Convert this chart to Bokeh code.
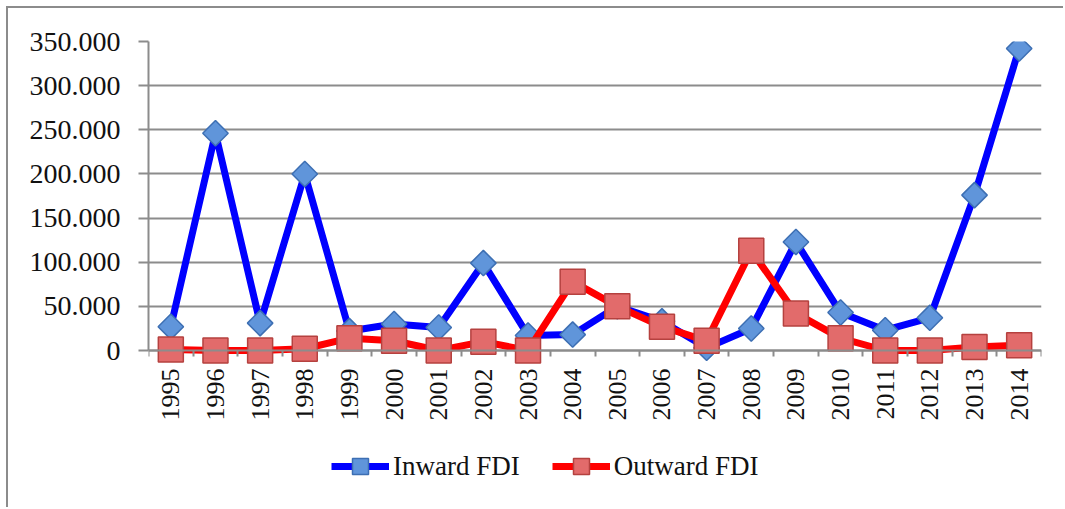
import math
from bokeh.plotting import figure
from bokeh.models import FixedTicker, Legend, LegendItem, ColumnDataSource
from bokeh.embed import file_html
from bokeh.resources import INLINE

years = ["1995", "1996", "1997", "1998", "1999", "2000", "2001", "2002", "2003", "2004",
         "2005", "2006", "2007", "2008", "2009", "2010", "2011", "2012", "2013", "2014"]
inward = [27, 246, 31, 200, 22, 30, 26, 99, 17, 18,
          50, 33, 3, 25, 123, 43, 23, 37, 176, 342]
outward = [1, 0, 0, 2, 14, 11, 0, 10, 0, 78,
           50, 27, 11, 113, 42, 14, 0, 0, 4, 6]
y_ticks = [0, 50, 100, 150, 200, 250, 300, 350]
y_tick_labels = ["0", "50.000", "100.000", "150.000", "200.000", "250.000", "300.000", "350.000"]

xs = [i + 0.5 for i in range(len(years))]
src_in = ColumnDataSource(dict(x=xs, y=[v * 1000 for v in inward]))
src_out = ColumnDataSource(dict(x=xs, y=[v * 1000 for v in outward]))
src_lab = ColumnDataSource(dict(x=xs, y=[0] * len(years), text=years))

W, H = 1057, 501
TOP, BOTTOM = 33, 10
DATA_PX = 309  # pixels from 0 to 350.000
ymax = 350000
frame_h = H - TOP - BOTTOM
ymin = -ymax * (frame_h - DATA_PX) / DATA_PX

p = figure(width=W, height=H, output_backend="svg", toolbar_location=None,
           x_range=(0, len(years)), y_range=(ymin, ymax),
           min_border_left=140, min_border_right=24, min_border_top=TOP, min_border_bottom=BOTTOM)
p.styles = {"margin-left": "6px", "margin-top": "6px",
            "border-left": "2px solid #8c8c8c", "border-top": "2px solid #8c8c8c"}
p.outline_line_color = None
p.background_fill_color = "white"
p.border_fill_color = "white"

# x axis at y = 0 inside the frame, boundary ticks only
p.xaxis.fixed_location = 0
p.xaxis.ticker = FixedTicker(ticks=[], minor_ticks=list(range(len(years) + 1)))
p.xaxis.major_tick_out = 0
p.xaxis.major_tick_in = 0
p.xaxis.minor_tick_out = 6
p.xaxis.minor_tick_in = 0
p.xaxis.minor_tick_line_color = "#8c8c8c"
p.xaxis.minor_tick_line_width = 2

p.yaxis.ticker = FixedTicker(ticks=[v * 1000 for v in y_ticks])
p.yaxis.bounds = (0, ymax)
p.yaxis.major_label_overrides = {v * 1000: lab for v, lab in zip(y_ticks, y_tick_labels)}
p.yaxis.major_tick_out = 10
p.yaxis.major_tick_in = 0
p.yaxis.minor_tick_out = 0
p.yaxis.minor_tick_in = 0
p.yaxis.major_tick_line_color = "#8c8c8c"
p.yaxis.major_tick_line_width = 2
p.yaxis.major_label_standoff = 18
p.yaxis.major_label_text_font = "Liberation Serif"
p.yaxis.major_label_text_font_size = "28px"
p.yaxis.major_label_text_color = "#111111"

for ax in (p.xaxis, p.yaxis):
    ax.axis_line_color = "#8c8c8c"
    ax.axis_line_width = 2

p.xgrid.grid_line_color = None
p.ygrid.ticker = FixedTicker(ticks=[v * 1000 for v in y_ticks])
p.ygrid.grid_line_color = "#8c8c8c"
p.ygrid.grid_line_width = 2

# year labels, rotated, below the axis
p.text("x", "y", text="text", source=src_lab, angle=math.pi / 2, y_offset=18,
       text_align="right", text_baseline="middle",
       text_font="Liberation Serif", text_font_size="26px", text_color="#111111")

# series
l_in = p.line("x", "y", source=src_in, line_color="#0000ff", line_width=7, line_join="round")
m_in = p.scatter("x", "y", source=src_in, marker="square", angle=math.pi / 4, size=18,
                 fill_color="#6095da", line_color="#3d6fb3", line_width=1.5)
l_out = p.line("x", "y", source=src_out, line_color="#ff0000", line_width=7, line_join="round")
m_out = p.scatter("x", "y", source=src_out, marker="square", size=25,
                  fill_color="#e26b6b", line_color="#b5413f", line_width=1.5)

legend = Legend(items=[LegendItem(label="Inward FDI", renderers=[l_in, m_in]),
                       LegendItem(label="Outward FDI", renderers=[l_out, m_out])],
                orientation="horizontal", location=(183, 13),
                padding=0, margin=0, spacing=32, glyph_width=58, glyph_height=40,
                label_height=40, label_standoff=4,
                label_text_font="Liberation Serif", label_text_font_size="27px",
                label_text_color="#111111",
                border_line_color=None, background_fill_alpha=0)
p.add_layout(legend, "center")

open("out.html", "w").write(file_html(p, INLINE))
